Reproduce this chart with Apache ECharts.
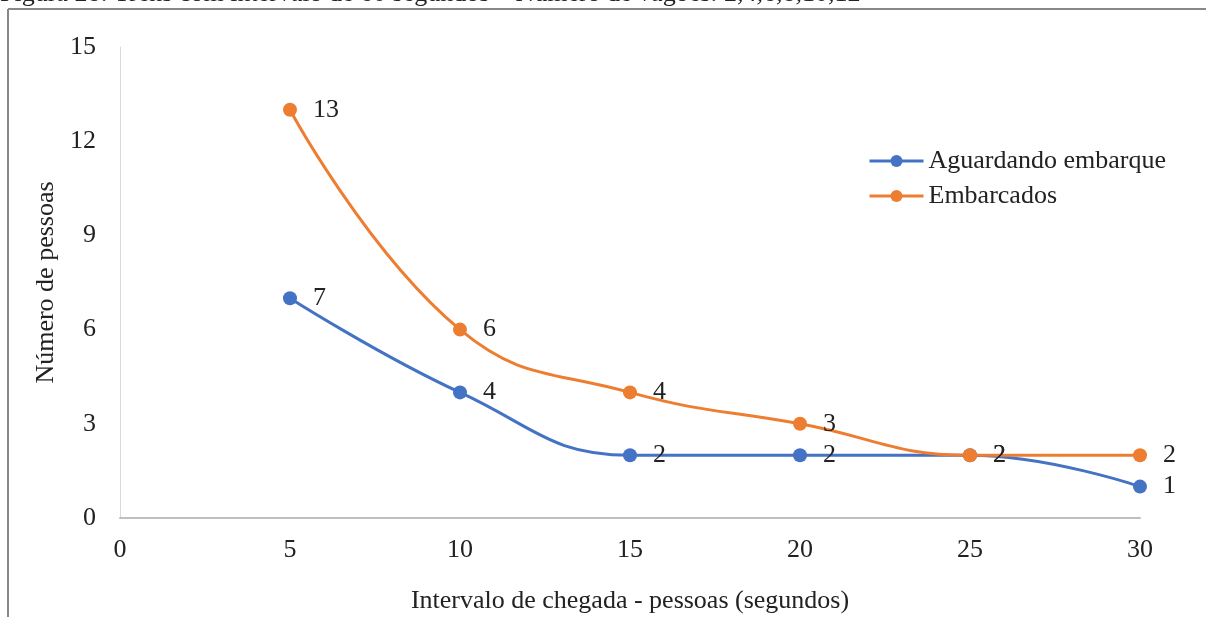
<!DOCTYPE html>
<html>
<head>
<meta charset="utf-8">
<script src="https://cdn.jsdelivr.net/npm/echarts@6/dist/echarts.min.js"></script>
<style>
  html, body { margin: 0; padding: 0; background: #fff; }
  #chart { width: 1206px; height: 617px; }
</style>
</head>
<body>
<div id="chart"></div>
<script>
// intervalo de chegada (segundos)
const intervals = [5, 10, 15, 20, 25, 30]
// número de pessoas
const aguardando = [7, 4, 2, 2, 2, 1]
const embarcados = [13, 6, 4, 3, 2, 2]

const seriesNames = ['Aguardando embarque', 'Embarcados']
const titleText = 'Figura 28: Trens com intervalo de 60 segundos – Número de vagões: 2,4,6,8,10,12'

const font = '"Liberation Serif", "Times New Roman", serif'
const blue = '#4472C4'
const orange = '#ED7D31'

const toPoints = (ys) => intervals.map((x, i) => [x, ys[i]])

const chart = echarts.init(document.getElementById('chart'))

const makeSeries = (name, ys, color) => ({
  name,
  type: 'line',
  data: toPoints(ys),
  smooth: 0.45,
  symbol: 'circle',
  symbolSize: 14,
  lineStyle: { color, width: 3 },
  itemStyle: { color },
  label: {
    show: true,
    position: 'right',
    distance: 16,
    color: '#222',
    fontFamily: font,
    fontSize: 26,
  },
})

chart.setOption({
  animation: false,
  textStyle: { fontFamily: font },
  graphic: [
    {
      type: 'text',
      left: 0,
      top: -19,
      style: { text: titleText, font: '26px ' + font, fill: '#222' },
    },
    {
      type: 'line',
      shape: { x1: 8, y1: 9, x2: 1206, y2: 9 },
      style: { stroke: '#888', lineWidth: 2 },
    },
    {
      type: 'line',
      shape: { x1: 8, y1: 9, x2: 8, y2: 617 },
      style: { stroke: '#888', lineWidth: 2 },
    },
  ],
  legend: {
    orient: 'vertical',
    left: 868,
    top: 148,
    padding: 0,
    itemWidth: 54,
    itemHeight: 15,
    itemGap: 9,
    lineStyle: { width: 3 },
    textStyle: { fontFamily: font, fontSize: 26, color: '#222' },
    data: seriesNames,
  },
  grid: {
    left: 120,
    right: 66,
    top: 47,
    bottom: 99,
    containLabel: false,
    outerBoundsMode: 'none',
  },
  xAxis: {
    type: 'value',
    min: 0,
    max: 30,
    interval: 5,
    name: 'Intervalo de chegada - pessoas (segundos)',
    nameLocation: 'middle',
    nameGap: 70,
    nameTextStyle: { fontFamily: font, fontSize: 26, color: '#222' },
    axisLine: { show: true, lineStyle: { color: '#bfbfbf', width: 2 } },
    axisTick: { show: false },
    splitLine: { show: false },
    axisLabel: { fontFamily: font, fontSize: 26, color: '#222', margin: 19 },
  },
  yAxis: {
    type: 'value',
    min: 0,
    max: 15,
    interval: 3,
    name: 'Número de pessoas',
    nameLocation: 'middle',
    nameGap: 60,
    nameTextStyle: { fontFamily: font, fontSize: 26, color: '#222' },
    axisLine: { show: true, lineStyle: { color: '#d9d9d9', width: 1 } },
    axisTick: { show: false },
    splitLine: { show: false },
    axisLabel: { fontFamily: font, fontSize: 26, color: '#222', margin: 24 },
  },
  series: [
    makeSeries(seriesNames[0], aguardando, blue),
    makeSeries(seriesNames[1], embarcados, orange),
  ],
})
</script>
</body>
</html>
